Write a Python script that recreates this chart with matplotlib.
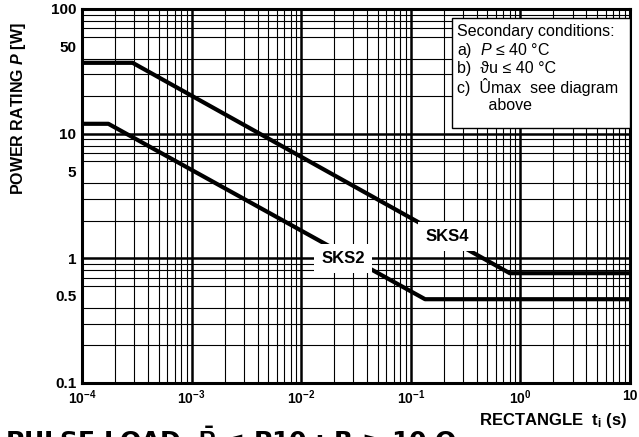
import matplotlib
matplotlib.use("Agg")
import matplotlib.pyplot as plt
from matplotlib.patches import Rectangle
from matplotlib.ticker import FixedLocator, LogLocator, NullFormatter

plt.rcParams["font.family"] = ["Liberation Sans", "DejaVu Sans"]
plt.rcParams["mathtext.fontset"] = "custom"
plt.rcParams["mathtext.rm"] = "Liberation Sans"
plt.rcParams["mathtext.it"] = "Liberation Sans:italic"
plt.rcParams["mathtext.bf"] = "Liberation Sans:bold"
plt.rcParams["mathtext.bfit"] = "Liberation Sans:italic:bold"

# Power rating curves (pulse duration in s, power in W)
sks4_t = [1e-4, 2.9e-4, 0.80, 10]
sks4_p = [37, 37, 0.76, 0.76]
sks2_t = [1e-4, 1.74e-4, 0.135, 10]
sks2_p = [12, 12, 0.47, 0.47]

x_ticks = [1e-4, 1e-3, 1e-2, 1e-1, 1e0, 1e1]
x_tick_labels = [r"$\mathbf{10^{-4}}$", r"$\mathbf{10^{-3}}$", r"$\mathbf{10^{-2}}$",
                 r"$\mathbf{10^{-1}}$", r"$\mathbf{10^{0}}$", "10"]
y_ticks = [0.1, 0.5, 1, 5, 10, 50, 100]
y_tick_labels = ["0.1", "0.5", "1", "5", "10", "50", "100"]

W, H = 639, 437
fig = plt.figure(figsize=(W / 100, H / 100), dpi=100)
left, right, top, bottom = 82, 630, 9, 383
ax = fig.add_axes([left / W, (H - bottom) / H, (right - left) / W, (bottom - top) / H])
ax.set_xscale("log")
ax.set_yscale("log")
ax.set_xlim(1e-4, 10)
ax.set_ylim(0.1, 100)

# grid: thin minor lines, heavier decade lines
ax.xaxis.set_minor_locator(LogLocator(base=10, subs=range(2, 10)))
ax.yaxis.set_minor_locator(LogLocator(base=10, subs=range(2, 10)))
ax.xaxis.set_minor_formatter(NullFormatter())
ax.yaxis.set_minor_formatter(NullFormatter())
ax.grid(which="minor", color="black", linewidth=0.8)
for d in [1e-3, 1e-2, 1e-1, 1e0]:
    ax.axvline(d, color="black", linewidth=1.8, zorder=1)
for d in [1, 10]:
    ax.axhline(d, color="black", linewidth=1.8, zorder=1)

ax.set_xticks(x_ticks)
ax.set_xticklabels(x_tick_labels, fontsize=10, fontweight="bold")
ax.yaxis.set_major_locator(FixedLocator(y_ticks))
ax.set_yticklabels(y_tick_labels, fontsize=11, fontweight="bold")
ax.tick_params(which="both", length=0, pad=4)
for s in ax.spines.values():
    s.set_linewidth(2.2)

ax.plot(sks4_t, sks4_p, color="black", linewidth=3.0, solid_capstyle="butt", zorder=3)
ax.plot(sks2_t, sks2_p, color="black", linewidth=3.0, solid_capstyle="butt", zorder=3)

lab = dict(fontsize=12, fontweight="bold", ha="center", va="center", zorder=5,
           bbox=dict(facecolor="white", edgecolor="none", pad=5))
ax.text(0.024, 0.99, "SKS2", **lab)
ax.text(0.214, 1.51, "SKS4", **lab)

# secondary conditions box
ax.add_patch(Rectangle((0.675, 0.682), 0.325, 0.294, transform=ax.transAxes,
                       facecolor="white", edgecolor="black", linewidth=1.0, zorder=6))
box_lines = ["Secondary conditions:",
             r"a)  $P$ ≤ 40 °C",
             "b)  ϑu ≤ 40 °C",
             "c)  Ûmax  see diagram",
             "       above"]
for i, s in enumerate(box_lines):
    ypx = 32 + i * 18.5
    ax.text((457 - left) / (right - left), 1 - (ypx - top) / (bottom - top), s,
            transform=ax.transAxes, fontsize=11.5, ha="left", va="center", zorder=7)

fig.text(19 / W, 1 - 109 / H, r"POWER RATING $\mathbfit{P}$ [W]", rotation=90,
         fontsize=11.5, fontweight="bold", ha="center", va="center")
fig.text(627 / W, 1 - 420 / H, r"RECTANGLE  $\mathbf{t_i}$ (s)",
         fontsize=12, fontweight="bold", ha="right", va="center")
# page heading below the chart, only its upper part falls inside the figure
fig.text(5 / W, 1 - 450 / H, r"PULSE LOAD  $\mathbf{\bar{P}}$ ≤ P10 ; R ≥ 10 Ω",
         family="DejaVu Sans", fontsize=18, fontweight="bold", ha="left", va="baseline")

fig.savefig("out.png", dpi=100)
